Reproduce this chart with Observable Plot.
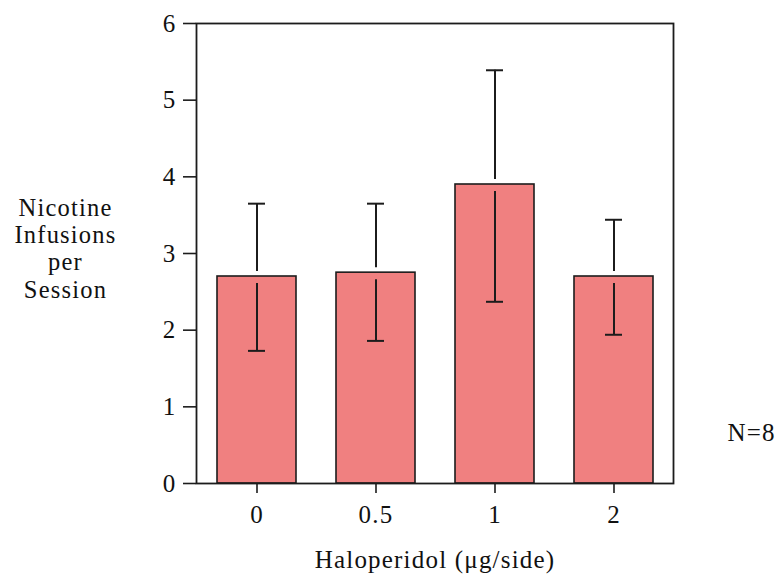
<!DOCTYPE html>
<html>
<head>
<meta charset="utf-8">
<script src="https://cdn.jsdelivr.net/npm/d3@7"></script>
<script src="https://cdn.jsdelivr.net/npm/@observablehq/plot@0.6"></script>
<style>
  html, body { margin: 0; padding: 0; background: #fff; }
  #chart svg, #chart svg text { font-family: "Liberation Serif", "Times New Roman", serif; }
</style>
</head>
<body>
<div id="chart"></div>
<script>
// Data
const doses = ["0", "0.5", "1", "2"];
const means = [2.70, 2.75, 3.90, 2.70];
const upper = [3.65, 3.65, 5.39, 3.44];
const lower = [1.73, 1.86, 2.37, 1.94];
const yTicks = [0, 1, 2, 3, 4, 5, 6];
const yLabel = "Nicotine\nInfusions\nper\nSession";
const xLabel = "Haloperidol (\u03BCg/side)";
const note = "N=8";

const rows = doses.map((d, i) => ({dose: d, mean: means[i], upper: upper[i], lower: lower[i]}));

const ink = "#1c1c1c";
const font = "Liberation Serif";

const chart = Plot.plot({
  width: 779,
  height: 588,
  marginTop: 23,
  marginBottom: 105,
  marginLeft: 196,
  marginRight: 106,
  style: {background: "#fff", color: "#111"},
  x: {domain: doses, paddingInner: 0.34, paddingOuter: 0.17, label: null},
  y: {domain: [0, 6], label: null},
  marks: [
    Plot.barY(rows, {x: "dose", y: "mean", fill: "#F08080", stroke: ink, strokeWidth: 1.6}),
    Plot.ruleX(rows, {x: "dose", y1: "upper", y2: "mean", insetBottom: 5, stroke: ink, strokeWidth: 2}),
    Plot.ruleX(rows, {x: "dose", y1: "mean", y2: "lower", insetTop: 7, stroke: ink, strokeWidth: 2}),
    Plot.tickY(rows, {x: "dose", y: "upper", insetLeft: 31, insetRight: 31, stroke: ink, strokeWidth: 2}),
    Plot.tickY(rows, {x: "dose", y: "lower", insetLeft: 31, insetRight: 31, stroke: ink, strokeWidth: 2}),
    Plot.axisY({ticks: yTicks, tickFormat: d => String(d), tickSize: 13, tickPadding: 7, stroke: ink, strokeWidth: 1.6, fontSize: 25, fontFamily: font, fill: "#111", label: null}),
    Plot.axisX({tickSize: 10, tickPadding: 12, stroke: ink, strokeWidth: 1.6, fontSize: 25, fontFamily: font, fill: "#111", label: null}),
    Plot.frame({stroke: ink, strokeWidth: 1.8}),
    Plot.text([yLabel], {frameAnchor: "left", dx: -131, dy: -5.6, textAnchor: "middle", lineHeight: 1.12, fontSize: 24.5, fontFamily: font, fill: "#111"}),
    Plot.text([xLabel], {frameAnchor: "bottom", dy: 84, textAnchor: "middle", fontSize: 25, fontFamily: font, fill: "#111"}),
    Plot.text([note], {frameAnchor: "bottom-right", dx: 78, dy: -42.5, textAnchor: "middle", fontSize: 25, fontFamily: font, fill: "#111"})
  ]
});

// serif face everywhere, spacing widened slightly to match the reference's text widths
chart.setAttribute("font-family", font);
d3.select(chart).selectAll("text").attr("font-family", font).attr("letter-spacing", "1.2");
// re-insert the library's SVG through the HTML parser
document.getElementById("chart").innerHTML = chart.outerHTML;
</script>
</body>
</html>
